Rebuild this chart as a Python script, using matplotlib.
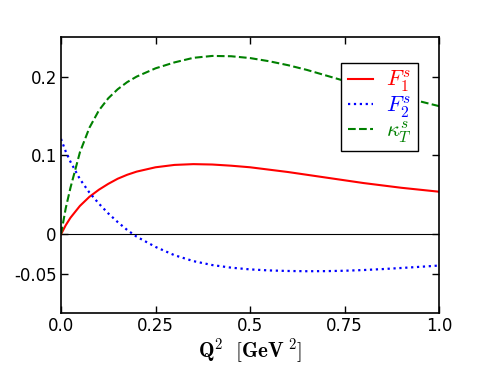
import numpy as np
import matplotlib
matplotlib.use('Agg')
import matplotlib.pyplot as plt

plt.rcParams['mathtext.fontset'] = 'cm'

q2 = [0.0, 0.0125, 0.025, 0.05, 0.075, 0.1, 0.125, 0.15, 0.175, 0.2, 0.25, 0.3, 0.35,
      0.4, 0.45, 0.5, 0.55, 0.6, 0.65, 0.7, 0.75, 0.8, 0.85, 0.9, 0.95, 1.0]
F1 = [0.0, 0.0115, 0.021, 0.036, 0.0475, 0.0565, 0.064, 0.0705, 0.0755, 0.0795, 0.085, 0.088, 0.089,
      0.0885, 0.087, 0.085, 0.082, 0.079, 0.0755, 0.072, 0.0685, 0.065, 0.062, 0.059, 0.0565, 0.054]
F2 = [0.121, 0.105, 0.092, 0.070, 0.053, 0.039, 0.0265, 0.0155, 0.0055, -0.003, -0.016, -0.0265, -0.034,
      -0.039, -0.0423, -0.0445, -0.0458, -0.0465, -0.0468, -0.0467, -0.0462, -0.0453, -0.0441, -0.0427,
      -0.0412, -0.0396]
kT = [0.0, 0.033, 0.059, 0.104, 0.135, 0.157, 0.1725, 0.184, 0.193, 0.200, 0.2105, 0.218, 0.2238,
      0.2262, 0.2258, 0.2235, 0.2195, 0.2145, 0.2085, 0.2015, 0.1945, 0.1875, 0.181, 0.1745, 0.1685, 0.1625]

fig = plt.figure(figsize=(4.88, 3.68), dpi=100)
ax = fig.add_axes([0.125, 0.149, 0.775, 0.75])

ax.axhline(0, color='black', lw=0.8)
ax.plot(q2, F1, color='red', lw=1.5, label=r'$F_1^s$')
ax.plot(q2, F2, color='blue', lw=1.6, ls=':', label=r'$F_2^s$')
ax.plot(q2, kT, color='green', lw=1.5, ls='--', label=r'$\kappa_T^s$')

ax.set_xlim(0, 1)
ax.set_ylim(-0.1, 0.25)
ax.set_xticks([0, 0.25, 0.5, 0.75, 1.0])
ax.set_xticklabels(['0.0', '0.25', '0.5', '0.75', '1.0'])
ax.set_yticks([-0.05, 0, 0.1, 0.2])
ax.set_yticklabels(['-0.05', '0', '0.1', '0.2'])
ax.tick_params(direction='in', top=True, right=True, labelsize=12, length=5, width=1, pad=3)
for s in ax.spines.values():
    s.set_linewidth(1.2)

ax.set_xlabel(r'$\mathbf{Q^2}\ \ [\mathbf{GeV}^{\ 2}]$', fontsize=15, labelpad=1)

leg = ax.legend(loc='upper right', bbox_to_anchor=(0.945, 0.908), fontsize=16,
                fancybox=False, framealpha=1, edgecolor='black', handlelength=1.1,
                handletextpad=0.6, labelspacing=0.0, borderpad=0.3, borderaxespad=0)
for t, c in zip(leg.get_texts(), ['red', 'blue', 'green']):
    t.set_color(c)

fig.savefig('out.png', dpi=100)
